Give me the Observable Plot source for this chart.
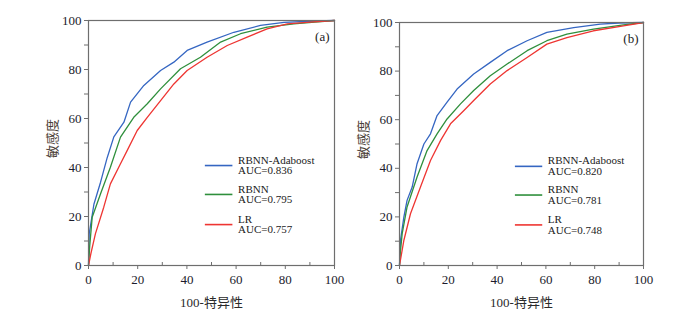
<!DOCTYPE html>
<html><head><meta charset="utf-8">
<script src="https://cdn.jsdelivr.net/npm/d3@7"></script>
<script src="https://cdn.jsdelivr.net/npm/@observablehq/plot@0.6"></script>
<style>
body{margin:0;background:#fff}
#wrap{position:relative;width:699px;height:315px;overflow:hidden}
#wrap svg{position:absolute;top:0}
</style>
</head><body><div id="wrap"></div>
<script>
// ---- data ----
const seriesNames = ["RBNN-Adaboost", "RBNN", "LR"];
const seriesColors = ["#3566c2", "#2f8f3c", "#ee3532"];
const aucA = ["0.836", "0.795", "0.757"];
const aucB = ["0.820", "0.781", "0.748"];
const panelLabels = ["(a)", "(b)"];
const xLabel = "100-特异性";
const yLabel = "敏感度";
const majorTicks = [0, 20, 40, 60, 80, 100];
const allTicks = [0, 10, 20, 30, 40, 50, 60, 70, 80, 90, 100];
const minorTicks = [10, 30, 50, 70, 90];

// panel (a)
const aAdaX = [0, 0.3, 2.2, 4.9, 7.6, 10.3, 14.4, 17.1, 22.5, 29.3, 34.7, 40.1, 48.2, 59.1, 69.9, 79.5, 90, 100];
const aAdaY = [0, 13, 25, 34, 44, 52.5, 58.5, 66.7, 73.5, 79.6, 83, 87.8, 91.2, 95.2, 98, 99.2, 99.7, 100];
const aRbnnX = [0, 0.5, 1.5, 4.9, 8.9, 13, 18.4, 23.9, 29.3, 37.4, 45.5, 53.7, 61.8, 72.6, 83.5, 92, 100];
const aRbnnY = [0, 8, 19.7, 29.3, 40.1, 52.4, 60.5, 66, 72.1, 80.3, 85, 91.2, 94.6, 97.3, 98.6, 99.3, 100];
const aLrX = [0, 1, 2.8, 6.2, 8.9, 13, 15.7, 19.8, 23.9, 29.3, 34.7, 40.1, 48.2, 56.4, 64.5, 72.6, 80.8, 90, 100];
const aLrY = [0, 5, 12.9, 23.8, 33.3, 41.5, 46.9, 55.1, 60.5, 67.3, 74.1, 79.6, 85, 89.8, 93.2, 96.6, 98.6, 99.3, 100];

// panel (b)
const bAdaX = [0, 0.4, 1.8, 3.1, 5.2, 7.2, 10, 12.7, 15.4, 19.5, 23.6, 30.4, 37.2, 44.1, 52.3, 60.4, 71.4, 82.3, 90, 100];
const bAdaY = [0, 10.4, 20, 26.8, 32.3, 41.9, 50, 54.2, 61.7, 67.2, 72.6, 78.8, 83.6, 88.4, 92.5, 95.9, 97.9, 99.3, 99.8, 100];
const bRbnnX = [0, 0.3, 1.1, 3.1, 7.2, 11.3, 15.4, 19.5, 25, 30.4, 37.2, 44.1, 52.3, 60.4, 68.6, 79.5, 91.8, 100];
const bRbnnY = [0, 5, 13.1, 24.1, 36.4, 47.3, 54.2, 60.3, 66.5, 72, 78.1, 82.9, 88.4, 92.5, 95.2, 97.3, 99, 100];
const bLrX = [0, 1.8, 4.5, 8.6, 12.7, 16.8, 20.9, 26.3, 30.4, 37.2, 44.1, 52.3, 60.4, 68.6, 79.5, 91.8, 100];
const bLrY = [0, 10.4, 21.3, 32.3, 43.2, 51.4, 58.3, 63.7, 67.9, 74.7, 80.2, 85.6, 91.1, 93.8, 96.6, 98.6, 100];

// ---- layout ----
const legendLine = [47.5, 58.7];
const legendTextX = 60.8;
const legendY = [40.8, 29, 16.7];
const serif = "'Liberation Serif', 'Times New Roman', 'Noto Sans CJK SC', serif";

function panel(cfg) {
  const curves = [[cfg.ada[0], cfg.ada[1]], [cfg.rbnn[0], cfg.rbnn[1]], [cfg.lr[0], cfg.lr[1]]];
  const rows = [];
  curves.forEach((c, i) => c[0].forEach((xv, j) => rows.push({series: seriesNames[i], x: xv, y: c[1][j]})));
  const legend = seriesNames.map((s, i) => ({series: s, y: legendY[i], text: s + "\nAUC=" + cfg.auc[i]}));
  const svg = Plot.plot({
    width: cfg.width, height: 315,
    marginLeft: cfg.ml, marginRight: cfg.mr, marginTop: cfg.mt, marginBottom: 50,
    style: {fontFamily: serif, fontSize: "13px", color: "#222", background: "transparent", overflow: "visible"},
    x: {domain: [0, 100]},
    y: {domain: [0, 100]},
    color: {domain: seriesNames, range: seriesColors},
    marks: [
      Plot.line(rows, {x: "x", y: "y", z: "series", stroke: "series", strokeWidth: 1.3}),
      Plot.frame({stroke: "#6e6e6e", strokeWidth: 1.2}),
      Plot.axisX(majorTicks, {label: null, tickSize: 4, tickPadding: 5, stroke: "#6e6e6e", fill: "#1c1c2c",
        fontSize: 13, fontFamily: serif}),
      Plot.ruleX(minorTicks, {x: d => d, y1: 0, y2: 0, insetBottom: 3, stroke: "#6e6e6e"}),
      Plot.axisY(allTicks, {label: null, tickSize: 4, tickPadding: 3, stroke: "#6e6e6e", fill: "#1c1c2c",
        fontSize: 13, fontFamily: serif, tickFormat: d => d % 20 === 0 ? String(d) : ""}),
      Plot.ruleY(legend, {y: "y", x1: legendLine[0], x2: legendLine[1], stroke: "series", strokeWidth: 1.6}),
      Plot.text(legend, {y: "y", x: legendTextX, text: "text", textAnchor: "start", lineAnchor: "middle",
        lineHeight: 0.98, fontSize: 11, fontFamily: serif, fill: "#222"}),
      Plot.text([cfg.label], {frameAnchor: "top-right", dx: -5, dy: 16, lineAnchor: "middle", fontSize: 13,
        fontFamily: serif, fill: "#222"}),
      Plot.text([xLabel], {frameAnchor: "bottom", dy: 37, lineAnchor: "middle", fontSize: 13, fontFamily: serif, fill: "#2a2a2a"}),
      Plot.text([yLabel], {frameAnchor: "left", dx: -36, dy: 15, rotate: -90, lineAnchor: "middle", fontSize: 13,
        fontFamily: serif, fill: "#4a3e36"})
    ]
  });
  svg.style.left = cfg.left + "px";
  return svg;
}

const wrap = document.getElementById("wrap");
wrap.appendChild(panel({width: 349, left: 0, ml: 88, mr: 15, mt: 20, ada: [aAdaX, aAdaY], rbnn: [aRbnnX, aRbnnY], lr: [aLrX, aLrY], auc: aucA, label: panelLabels[0]}));
wrap.appendChild(panel({width: 350, left: 349, ml: 50, mr: 56, mt: 22, ada: [bAdaX, bAdaY], rbnn: [bRbnnX, bRbnnY], lr: [bLrX, bLrY], auc: aucB, label: panelLabels[1]}));
</script>
</body></html>
